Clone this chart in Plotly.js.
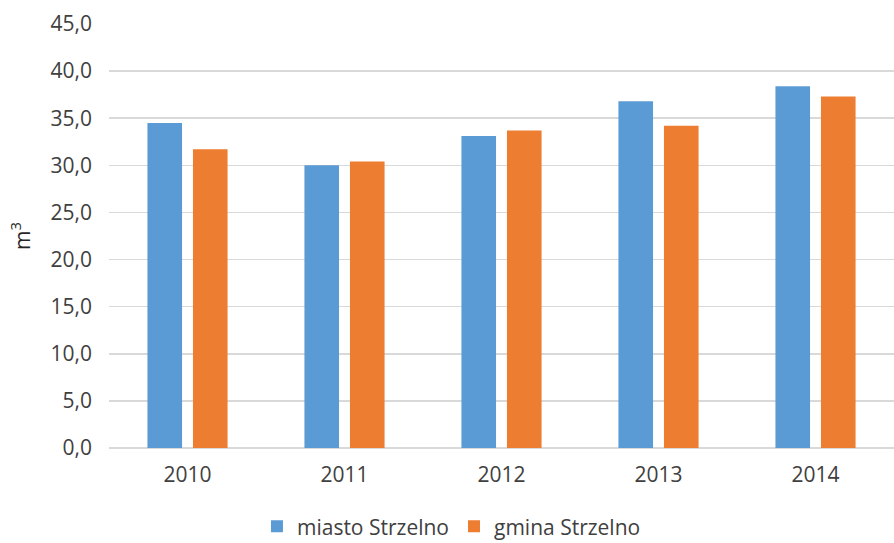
<!DOCTYPE html>
<html><head><meta charset="utf-8">
<script src="https://cdn.plot.ly/plotly-3.0.1.min.js"></script>
<style>html,body{margin:0;padding:0;background:#fff}#c{width:894px;height:543px}</style>
</head><body><div id="c"></div>
<script>
const years = ['2010','2011','2012','2013','2014'];
const miasto = [34.5, 30.0, 33.1, 36.8, 38.4];
const gmina = [31.7, 30.4, 33.7, 34.2, 37.3];
const seriesNames = ['miasto Strzelno','gmina Strzelno'];
const yTicks = [0,5,10,15,20,25,30,35,40,45];

const fam = 'Open Sans, Liberation Sans, Arial, sans-serif';
const font = {family:fam, size:21, color:'#404040'};
const data = [
  {type:'bar', x:years, y:miasto, name:seriesNames[0], marker:{color:'#5b9bd5'}, hoverinfo:'none'},
  {type:'bar', x:years, y:gmina, name:seriesNames[1], marker:{color:'#ed7d31'}, hoverinfo:'none'}
];
const layout = {
  width:894, height:543,
  margin:{l:109, r:0, t:24, b:95},
  separators:', ',
  font:font,
  barmode:'group', bargap:0.42, bargroupgap:0.24,
  xaxis:{type:'category', showgrid:false, ticks:'', showline:false, tickfont:font, ticklabelstandoff:12, automargin:false},
  yaxis:{range:[0,45], tickvals:yTicks, tickformat:'.1f', gridcolor:'#d9d9d9', gridwidth:1.5,
         zeroline:true, zerolinecolor:'#d9d9d9', zerolinewidth:1.5, showline:false, ticks:'', ticklen:0,
         tickfont:font, ticklabelstandoff:16, automargin:false,
         title:{text:'m<sup>3</sup>', font:{family:fam, size:21, color:'#262626'}, standoff:14}},
  showlegend:true,
  legend:{orientation:'h', x:0.505, xref:'container', xanchor:'center', y:0.03, yref:'container', yanchor:'middle', font:font, itemwidth:30, traceorder:'normal'},
  paper_bgcolor:'#fff', plot_bgcolor:'#fff'
};
Plotly.newPlot('c', data, layout, {displayModeBar:false, staticPlot:true});
</script></body></html>
